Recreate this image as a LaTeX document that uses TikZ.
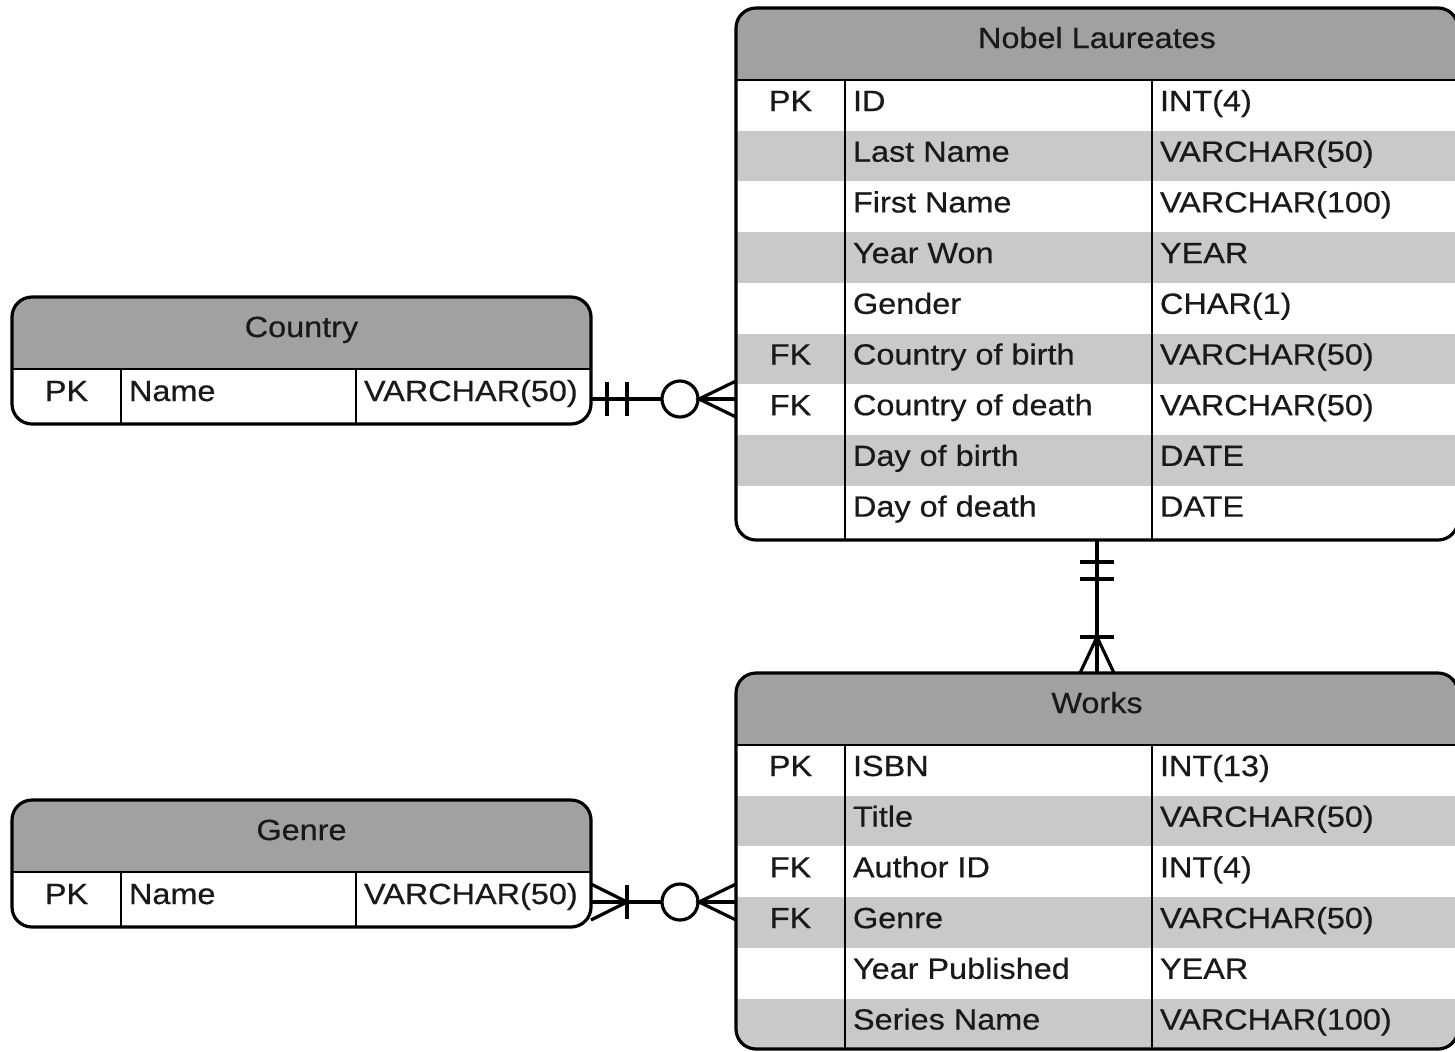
\documentclass[tikz,border=0pt]{standalone}
\usepackage{fontspec}
\setmainfont{Liberation Sans}[FakeStretch=1.11,FakeBold=0.5]
\usetikzlibrary{calc}
\definecolor{hdr}{gray}{0.63}
\definecolor{rowgray}{gray}{0.79}
\definecolor{ink}{gray}{0.1}
\begin{document}
\begin{tikzpicture}[x=0.5pt,y=-0.5pt,
  txt/.style={font=\fontsize{14.6pt}{17pt}\selectfont, text=ink, inner sep=0pt, outer sep=0pt},
  fld/.style={txt, anchor=base west},
  keytxt/.style={txt, anchor=base},
  outer/.style={draw=black, line width=1.6pt, rounded corners=10},
  inner/.style={draw=black, line width=1.3pt},
  conn/.style={draw=black, line width=1.6pt}]
\useasboundingbox (0,0) rectangle (1455,1051);
\clip (0,0) rectangle (1455,1051);

% ---------------- Nobel Laureates ----------------
\begin{scope}
  \clip[rounded corners=10] (736,8) rectangle (1458,540);
  \fill[white] (736,8) rectangle (1458,540);
  \fill[hdr] (736,8) rectangle (1458,80);
  \foreach \k in {1,3,5,7} {\fill[rowgray] (736,{80+\k*50.7}) rectangle (1458,{80+(\k+1)*50.7});}
\end{scope}
\draw[inner] (736,80) -- (1458,80);
\draw[inner] (845,80) -- (845,540);
\draw[inner] (1152,80) -- (1152,540);
\draw[outer] (736,8) rectangle (1458,540);
\node[keytxt] (nl-h) at (1097,48) {Nobel Laureates};
\foreach \k/\key/\f [count=\i from 0] in {
  PK/ID/INT(4),
  /Last Name/VARCHAR(50),
  /First Name/VARCHAR(100),
  /Year Won/YEAR,
  /Gender/CHAR(1),
  FK/Country of birth/VARCHAR(50),
  FK/Country of death/VARCHAR(50),
  /Day of birth/DATE,
  /Day of death/DATE} {
  \node[keytxt] (nl-k-\i) at (790.5,{80+\i*50.7+31}) {\k};
  \node[fld] (nl-f-\i) at (853,{80+\i*50.7+31}) {\key};
  \node[fld] (nl-t-\i) at (1160,{80+\i*50.7+31}) {\f};
}

% ---------------- Works ----------------
\begin{scope}
  \clip[rounded corners=10] (736,673) rectangle (1458,1049);
  \fill[white] (736,673) rectangle (1458,1049);
  \fill[hdr] (736,673) rectangle (1458,745);
  \foreach \k in {1,3,5} {\fill[rowgray] (736,{745+\k*50.7}) rectangle (1458,{745+(\k+1)*50.7});}
\end{scope}
\draw[inner] (736,745) -- (1458,745);
\draw[inner] (845,745) -- (845,1049);
\draw[inner] (1152,745) -- (1152,1049);
\draw[outer] (736,673) rectangle (1458,1049);
\node[keytxt] (wk-h) at (1097,713) {Works};
\foreach \k/\key/\f [count=\i from 0] in {
  PK/ISBN/INT(13),
  /Title/VARCHAR(50),
  FK/Author ID/INT(4),
  FK/Genre/VARCHAR(50),
  /Year Published/YEAR,
  /Series Name/VARCHAR(100)} {
  \node[keytxt] (wk-k-\i) at (790.5,{745+\i*50.7+31}) {\k};
  \node[fld] (wk-f-\i) at (853,{745+\i*50.7+31}) {\key};
  \node[fld] (wk-t-\i) at (1160,{745+\i*50.7+31}) {\f};
}

% ---------------- Country ----------------
\begin{scope}
  \clip[rounded corners=10] (12,297) rectangle (591,424);
  \fill[white] (12,297) rectangle (591,424);
  \fill[hdr] (12,297) rectangle (591,369);
\end{scope}
\draw[inner] (12,369) -- (591,369);
\draw[inner] (121,369) -- (121,424);
\draw[inner] (356,369) -- (356,424);
\draw[outer] (12,297) rectangle (591,424);
\node[keytxt] (ct-h) at (301.5,337) {Country};
\node[keytxt] (ct-k) at (66.5,401) {PK};
\node[fld] (ct-f) at (129,401) {Name};
\node[fld] (ct-t) at (364,401) {VARCHAR(50)};

% ---------------- Genre ----------------
\begin{scope}
  \clip[rounded corners=10] (12,800) rectangle (591,927);
  \fill[white] (12,800) rectangle (591,927);
  \fill[hdr] (12,800) rectangle (591,872);
\end{scope}
\draw[inner] (12,872) -- (591,872);
\draw[inner] (121,872) -- (121,927);
\draw[inner] (356,872) -- (356,927);
\draw[outer] (12,800) rectangle (591,927);
\node[keytxt] (gn-h) at (301.5,840) {Genre};
\node[keytxt] (gn-k) at (66.5,904) {PK};
\node[fld] (gn-f) at (129,904) {Name};
\node[fld] (gn-t) at (364,904) {VARCHAR(50)};

% ---------------- connector anchors ----------------
\coordinate (ctR) at (591,399);
\coordinate (nlL) at (736,399);
\coordinate (gnR) at (591,902);
\coordinate (wkL) at (736,902);
\coordinate (nlB) at (1097,540);
\coordinate (wkT) at (1097,673);

% Country -- Nobel Laureates : one and only one / zero or many
\draw[conn] (ctR) -- (nlL);
\draw[conn] ($(ctR)+(16,-17)$) -- ($(ctR)+(16,17)$);
\draw[conn] ($(ctR)+(36,-17)$) -- ($(ctR)+(36,17)$);
\draw[conn, fill=white] ($(nlL)+(-56,0)$) circle[radius=18];
\draw[conn] ($(nlL)+(0,-18)$) -- ($(nlL)+(-37,0)$) -- ($(nlL)+(0,18)$);

% Genre -- Works : one or many / zero or many
\draw[conn] (gnR) -- (wkL);
\draw[conn] ($(gnR)+(0,-18)$) -- ($(gnR)+(36,0)$) -- ($(gnR)+(0,18)$);
\draw[conn] ($(gnR)+(36,-17)$) -- ($(gnR)+(36,17)$);
\draw[conn, fill=white] ($(wkL)+(-56,0)$) circle[radius=18];
\draw[conn] ($(wkL)+(0,-18)$) -- ($(wkL)+(-37,0)$) -- ($(wkL)+(0,18)$);

% Nobel Laureates -- Works : one and only one / one or many
\draw[conn] (nlB) -- (wkT);
\draw[conn] ($(nlB)+(-17,22)$) -- ($(nlB)+(17,22)$);
\draw[conn] ($(nlB)+(-17,39)$) -- ($(nlB)+(17,39)$);
\draw[conn] ($(wkT)+(-17,-36)$) -- ($(wkT)+(17,-36)$);
\draw[conn] ($(wkT)+(-17,0)$) -- ($(wkT)+(0,-36)$) -- ($(wkT)+(17,0)$);
\end{tikzpicture}
\end{document}
